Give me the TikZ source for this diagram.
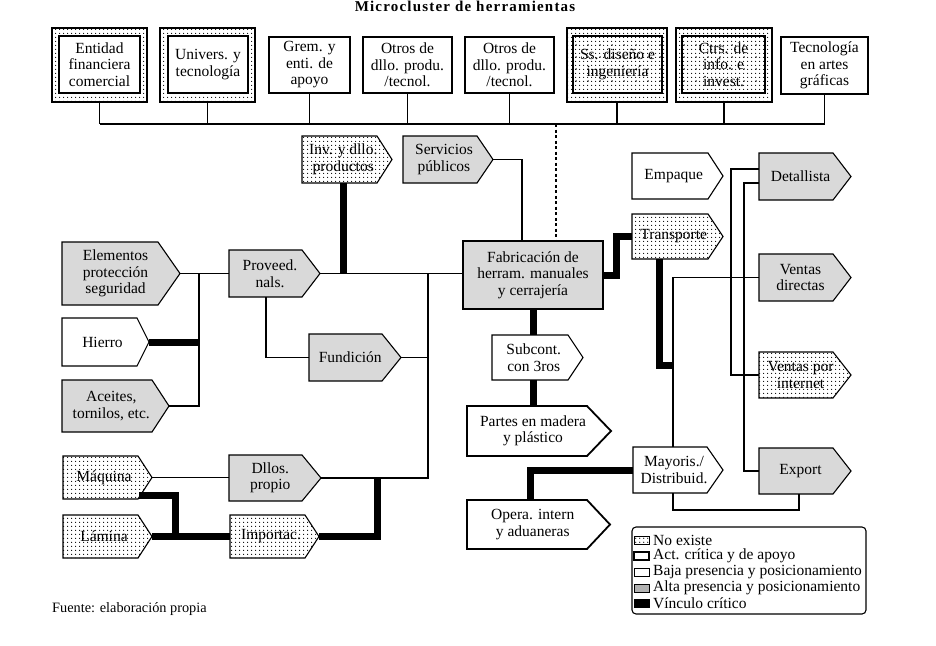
\documentclass[tikz,border=0pt]{standalone}
\usepackage{fontspec}
\setmainfont{Liberation Serif}
\usetikzlibrary{patterns.meta}
\tikzdeclarepattern{name=dotsA, type=uncolored,
  bounding box={(-2pt,-2pt) and (2pt,2pt)}, tile size={(4pt,4pt)},
  code={\pgfpathcircle{\pgfpointorigin}{0.75pt}\pgfusepath{fill}}}
\tikzdeclarepattern{name=dotsB, type=uncolored,
  bounding box={(-6pt,-6pt) and (6pt,6pt)}, tile size={(12pt,12pt)},
  code={\pgfpathcircle{\pgfpointorigin}{0.75pt}\pgfusepath{fill}}}
\newcommand\nodefont{\fontsize{15.5}{16.5}\selectfont}
\newcommand\legfont{\fontsize{15.5}{16}\selectfont}
\newcommand\titlefont{\fontsize{15}{17}\selectfont\bfseries\addfontfeature{LetterSpace=8}}
% pentagon: name, style, x1, y1, x2, y2, depth, text
\newcommand\pent[8]{%
  \path[pentshape,#2] (#3,#4) -- ({#5-#7},#4) -- (#5,{(#4+#6)/2}) -- ({#5-#7},#6) -- (#3,#6) -- cycle;
  \node[box, minimum width={#5-#3}, minimum height={#6-#4}] (#1) at ({(#3+#5)/2},{(#4+#6)/2}) {};
  \node[txt] (#1t) at ({(#3+#5-#7/2)/2},{(#4+#6)/2}) {#8};
}
% rectangle: name, style, x1, y1, x2, y2, text
\newcommand\rbox[7]{%
  \node[box,#2, minimum width={#5-#3}, minimum height={#6-#4}] (#1) at ({(#3+#5)/2},{(#4+#6)/2}) {#7};
}
\begin{document}
\begin{tikzpicture}[x=1pt,y=-1pt,
  ln/.style={line width=1.5pt},
  vk/.style={line width=7pt, line join=miter},
  box/.style={inner sep=0pt, outer sep=0pt, align=center, font=\nodefont},
  txt/.style={inner sep=0pt, align=center, font=\nodefont},
  pentshape/.style={draw, line width=1.1pt, line join=miter},
  gfill/.style={fill=black!15},
  dfill/.style={pattern=dotsA},
  wfill/.style={fill=white},
  topbox/.style={draw, line width=2pt, fill=white},
  outerbox/.style={draw, line width=2pt, pattern=dotsA},
  legicon/.style={draw, line width=1pt, minimum width=15pt, minimum height=8pt, inner sep=0pt},
  legtxt/.style={anchor=west, inner sep=0pt, font=\legfont},
]
\useasboundingbox (0,0) rectangle (936,645);

% title
\node[font=\titlefont, anchor=base, inner sep=0pt] (title) at (465,12) {Microcluster de herramientas};

% top boxes
\rbox{b1}{outerbox}{52}{28}{147}{102}{}
\rbox{b1i}{topbox}{59}{36}{140}{93}{Entidad\\financiera\\comercial}
\rbox{b2}{outerbox}{160}{28}{255}{102}{}
\rbox{b2i}{topbox}{168}{36}{248}{93}{Univers. y\\tecnología}
\rbox{b3}{topbox}{269}{37}{350}{93}{Grem. y\\enti. de\\apoyo}
\rbox{b4}{topbox}{363}{37}{452}{93}{Otros de\\dllo. produ.\\/tecnol.}
\rbox{b5}{topbox}{465}{37}{554}{93}{Otros de\\dllo. produ.\\/tecnol.}
\rbox{b6}{outerbox}{567}{28}{667}{102}{}
\rbox{b6i}{topbox, fill=none, pattern=dotsB}{573}{36}{662}{93}{Ss. diseño e\\ingeniería}
\rbox{b7}{outerbox}{676}{28}{772}{102}{}
\rbox{b7i}{topbox, fill=none, pattern=dotsB}{682}{36}{765}{93}{Ctrs. de\\info. e\\invest.}
\rbox{b8}{topbox}{781}{37}{868}{94}{Tecnología\\en artes\\gráficas}

\coordinate (bus) at (0,124);
\foreach \b in {b1,b2,b3,b4,b5,b6,b7,b8}{\draw[ln] (\b.south) -- (\b.south |- bus);}
\draw[ln] (b1.south |- bus) -- (b8.south |- bus);

% central box
\rbox{fab}{draw, line width=2pt, fill=black!15}{463}{241}{603}{309}{Fabricación de\\herram. manuales\\y cerrajería}

% pentagons
\pent{inv}{dfill}{302}{136}{392}{183}{15}{Inv. y dllo.\\productos}
\pent{serv}{gfill}{403}{136}{493}{183}{16}{Servicios\\públicos}
\pent{elem}{gfill}{62}{242}{180}{305}{22}{Elementos\\protección\\seguridad}
\pent{prov}{gfill}{229}{250}{320}{297}{18}{Proveed.\\nals.}
\pent{hier}{wfill}{62}{318}{149}{366}{12}{Hierro}
\pent{acei}{gfill}{62}{380}{169}{432}{17}{Aceites,\\tornilos, etc.}
\pent{fund}{gfill}{309}{334}{401}{381}{19}{Fundición}
\pent{maq}{dfill}{63}{456}{152}{499}{14}{Máquina}
\pent{lam}{dfill}{63}{515}{152}{558}{14}{Lámina}
\pent{dllo}{gfill}{229}{455}{321}{501}{19}{Dllos.\\propio}
\pent{imp}{dfill}{230}{515}{319}{558}{14}{Importac.}
\pent{sub}{wfill}{492}{335}{583}{380}{15}{Subcont.\\con 3ros}
\pent{part}{wfill, line width=1.8pt}{467}{406}{611}{456}{24}{Partes en madera\\y plástico}
\pent{opera}{wfill, line width=1.8pt}{467}{500}{610}{549}{23}{Opera. intern\\y aduaneras}
\pent{may}{wfill}{633}{447}{723}{493}{16}{Mayoris./\\Distribuid.}
\pent{emp}{wfill}{632}{153}{723}{199}{15}{Empaque}
\pent{trans}{dfill}{632}{214}{723}{259}{15}{Transporte}
\pent{det}{gfill}{759}{153}{851}{200}{18}{Detallista}
\pent{vdir}{gfill}{759}{254}{851}{301}{18}{Ventas\\directas}
\pent{vint}{dfill}{759}{352}{851}{398}{18}{Ventas por\\internet}
\pent{exp}{gfill}{759}{448}{851}{494}{18}{Export}

% dashed link from the bus
\coordinate (dtop) at (556,124);
\draw[line width=1.5pt, dash pattern=on 3pt off 2.5pt] (dtop) -- (dtop |- fab.north);

% left side connectors
\coordinate (v1) at (199,274);
\coordinate (v2) at (428,274);
\coordinate (j1) at (343,274);
\coordinate (s1) at (522,0);
\draw[ln] (elem.east) -- (prov.west |- elem.east);
\draw[ln] (v1) |- (acei.east);
\draw[vk] (hier.east) -- (hier.east -| v1);
\draw[ln] (prov.east) -- (fab.west |- prov.east);
\draw[vk] (inv.south -| j1) -- (j1);
\draw[ln] (serv.east) -| (s1 |- fab.north);
\draw[ln] ([xshift=-8.5pt]prov.south) |- (fund.west);
\draw[ln] (fund.east) -- (fund.east -| v2);
\draw[ln] (v2) |- (dllo.east);
\draw[ln] (maq.east) -- (dllo.west |- maq.east);
\coordinate (j3) at (175,537);
\coordinate (j4) at (377,478);
\draw[vk] ([xshift=-13pt,yshift=4pt]maq.south east) -| (j3);
\draw[vk] (lam.east) -- (imp.west);
\draw[vk] (imp.east) -| (j4);

% centre connectors
\draw[vk] (fab.south) -- (fab.south |- sub.north);
\draw[vk] (fab.south |- sub.south) -- (fab.south |- part.north);
\coordinate (t1) at (616,0);
\draw[vk] (fab.east) -| (t1 |- trans.west) -- (trans.west);

% right side connectors
\coordinate (k1) at (659,365);
\coordinate (k2) at (673,365);
\draw[vk] (trans.south -| k1) -- (k1) -- (k2);
\draw[ln] (may.north -| k2) |- (vdir.west);
\coordinate (r1) at (731,169);
\coordinate (r2) at (744,183);
\draw[ln] (det.west |- r1) -- (r1) |- (vint.west);
\draw[ln] (det.west |- r2) -- (r2) |- (exp.west);
\coordinate (bb) at (673,510);
\draw[ln] (may.south -| bb) -- (bb) -| ([xshift=-6pt]exp.south);
\coordinate (o1) at (530,0);
\draw[vk] (may.west) -| (o1 |- opera.north);

% legend
\node[draw, rounded corners=4pt, line width=1.1pt, minimum width=234pt, minimum height=87pt, inner sep=0pt] (leg) at (749,570.5) {};
\node[legicon, pattern=dotsA] (l1) at (641.5,540) {};
\node[legicon, line width=1.6pt, fill=white] (l2) at (641.5,556) {};
\node[legicon, fill=white] (l3) at (641.5,572) {};
\node[legicon, fill=black!30] (l4) at (641.5,588) {};
\node[legicon, fill=black] (l5) at (641.5,603) {};
\node[legtxt] (l1t) at (653,540) {No existe};
\node[legtxt] (l2t) at (653,556) {Act. crítica y de apoyo};
\node[legtxt] (l3t) at (653,572) {Baja presencia y posicionamiento};
\node[legtxt] (l4t) at (653,588) {Alta presencia y posicionamiento};
\node[legtxt] (l5t) at (653,603) {Vínculo crítico};

% source
\node[anchor=base west, inner sep=0pt, font=\fontsize{14.3}{16}\selectfont] (src) at (52,612) {Fuente: elaboración propia};
\end{tikzpicture}
\end{document}
